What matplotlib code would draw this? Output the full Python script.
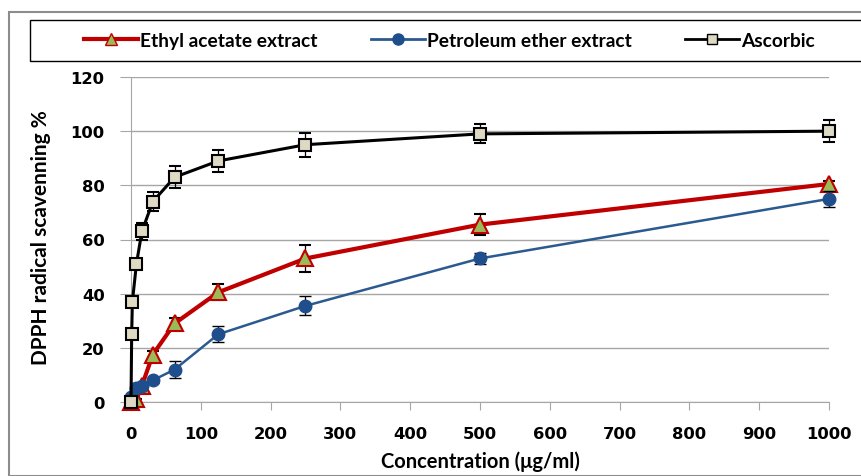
import numpy as np
import matplotlib
matplotlib.use("Agg")
import matplotlib.pyplot as plt
from matplotlib.lines import Line2D
from matplotlib.patches import Rectangle

# ---------------- data ----------------
conc_extract = [0, 7.8, 15.6, 31.25, 62.5, 125, 250, 500, 1000]
ethyl_acetate = [0, 1, 6, 17.5, 29, 40.5, 53, 65.5, 80.5]
ethyl_err = [0, 0, 1, 1.5, 2, 3, 5, 4, 1]
petroleum_ether = [2, 5, 6, 8, 12, 25, 35.5, 53, 75]
petroleum_err = [0, 0, 0.5, 1, 3, 3, 3.5, 2, 3]

conc_ascorbic = [0, 0.98, 1.95, 7.8, 15.6, 31.25, 62.5, 125, 250, 500, 1000]
ascorbic = [0, 25, 37, 51, 63, 74, 83, 89, 95, 99, 100]
ascorbic_err = [0, 0, 0, 0, 3, 3.5, 4, 4, 4.5, 3.5, 4]

x_ticks = [0, 100, 200, 300, 400, 500, 600, 700, 800, 900, 1000]
y_ticks = [0, 20, 40, 60, 80, 100, 120]

RED = "#C00000"
GREEN = "#9BBB59"
BLUE = "#2A5A8F"
BLUE_FACE = "#1F4E8C"
BEIGE = "#DDD9C3"
GRID = "#A6A6A6"

label_font = {"family": "Lato", "weight": "bold"}

fig = plt.figure(figsize=(8.62, 4.77), dpi=100)
ax = fig.add_axes([131 / 862, 1 - 403 / 477, (829 - 131) / 862, (403 - 78) / 477])

# outer chart frame and legend box (figure coordinates)
fig.patches.append(Rectangle((9 / 862, 0), 1, 1 - 13 / 477, transform=fig.transFigure,
                             fill=False, edgecolor="#8C8C8C", linewidth=1.5))
fig.patches.append(Rectangle((30 / 862, 1 - 62 / 477), 1, 41 / 477, transform=fig.transFigure,
                             fill=False, edgecolor="black", linewidth=1.0))

# series
ax.errorbar(conc_extract, ethyl_acetate, yerr=ethyl_err, color=RED, linewidth=3,
            marker="^", markersize=11, markerfacecolor=GREEN, markeredgecolor=RED,
            markeredgewidth=1.5, ecolor="black", elinewidth=0.9, capsize=4,
            clip_on=False, zorder=3, label="Ethyl acetate extract")
ax.errorbar(conc_extract, petroleum_ether, yerr=petroleum_err, color=BLUE, linewidth=1.8,
            marker="o", markersize=9, markerfacecolor=BLUE_FACE, markeredgecolor=BLUE_FACE,
            ecolor="black", elinewidth=0.9, capsize=4,
            clip_on=False, zorder=4, label="Petroleum ether extract")
ax.errorbar(conc_ascorbic, ascorbic, yerr=ascorbic_err, color="black", linewidth=2.2,
            marker="s", markersize=9, markerfacecolor=BEIGE, markeredgecolor="black",
            markeredgewidth=1.5, ecolor="black", elinewidth=0.9, capsize=4,
            clip_on=False, zorder=5, label="Ascorbic")

ax.set_xlim(0, 1000)
ax.set_ylim(0, 120)
ax.set_xticks(x_ticks)
ax.set_yticks(y_ticks)
ax.yaxis.grid(True, color=GRID, linewidth=1)
ax.set_axisbelow(True)
for side in ["top", "right"]:
    ax.spines[side].set_visible(False)
ax.spines["left"].set_color(GRID)
ax.spines["bottom"].set_color(GRID)
ax.tick_params(axis="y", direction="out", length=8, color=GRID, pad=11)
ax.tick_params(axis="x", direction="out", length=6, color=GRID, pad=11)
for lbl in ax.get_xticklabels() + ax.get_yticklabels():
    lbl.set_fontfamily("DejaVu Sans")
    lbl.set_fontweight("bold")
    lbl.set_fontsize(11.8)

ax.set_xlabel("Concentration (μg/ml)", fontsize=14.5, **label_font)
ax.xaxis.set_label_coords(0.5, -0.15)
ax.set_ylabel("DPPH radical scavenning %", fontsize=15, **label_font)
ax.yaxis.set_label_coords(-0.114, 0.51)

# legend inside the manually drawn box
handles, labels = ax.get_legend_handles_labels()
handles = [
    Line2D([], [], color=RED, linewidth=3, marker="^", markersize=9,
           markerfacecolor=GREEN, markeredgecolor=RED),
    Line2D([], [], color=BLUE, linewidth=2, marker="o", markersize=8,
           markerfacecolor=BLUE_FACE, markeredgecolor=BLUE_FACE),
    Line2D([], [], color="black", linewidth=2, marker="s", markersize=7,
           markerfacecolor=BEIGE, markeredgecolor="black"),
]
fig.legend(handles, labels, loc="center left", bbox_to_anchor=(67 / 862, 1 - 41.5 / 477),
           ncol=3, frameon=False, handlelength=2.8, handletextpad=0.1,
           columnspacing=2.8, prop={"family": "Lato", "weight": "bold", "size": 13.8})

fig.savefig("out.png", dpi=100)
